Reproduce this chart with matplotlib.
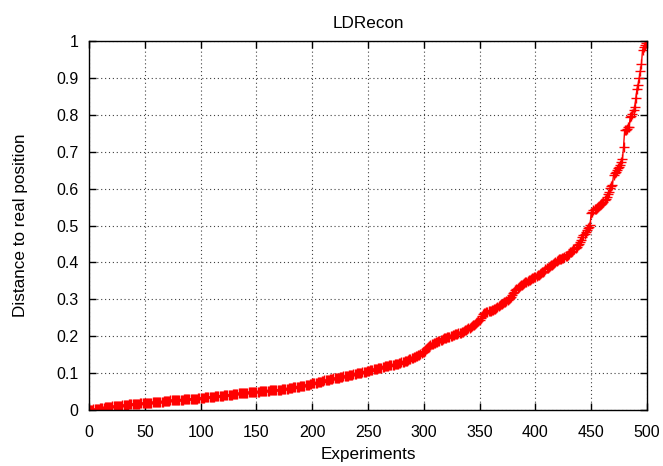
import numpy as np
import matplotlib
matplotlib.use("Agg")
import matplotlib.pyplot as plt

title = "LDRecon"
x_label = "Experiments"
y_label = "Distance to real position"

distance = [
    0.000, 0.001, 0.001, 0.001, 0.002, 0.002, 0.003, 0.003, 0.004, 0.004,
    0.005, 0.005, 0.006, 0.006, 0.007, 0.007, 0.008, 0.008, 0.008, 0.009,
    0.009, 0.010, 0.010, 0.010, 0.011, 0.011, 0.011, 0.012, 0.012, 0.012,
    0.013, 0.013, 0.013, 0.014, 0.014, 0.014, 0.015, 0.015, 0.015, 0.016,
    0.016, 0.016, 0.017, 0.017, 0.017, 0.017, 0.018, 0.018, 0.018, 0.019,
    0.019, 0.019, 0.019, 0.020, 0.020, 0.020, 0.020, 0.021, 0.021, 0.021,
    0.021, 0.022, 0.022, 0.022, 0.023, 0.023, 0.023, 0.024, 0.024, 0.024,
    0.025, 0.025, 0.025, 0.026, 0.026, 0.026, 0.026, 0.027, 0.027, 0.027,
    0.027, 0.028, 0.028, 0.028, 0.028, 0.029, 0.029, 0.029, 0.029, 0.030,
    0.030, 0.030, 0.030, 0.030, 0.031, 0.031, 0.031, 0.031, 0.032, 0.032,
    0.032, 0.033, 0.033, 0.033, 0.034, 0.034, 0.034, 0.035, 0.035, 0.035,
    0.036, 0.036, 0.036, 0.037, 0.037, 0.037, 0.038, 0.038, 0.039, 0.039,
    0.039, 0.040, 0.040, 0.040, 0.041, 0.041, 0.041, 0.042, 0.042, 0.043,
    0.043, 0.043, 0.044, 0.044, 0.045, 0.045, 0.045, 0.046, 0.046, 0.046,
    0.047, 0.047, 0.047, 0.048, 0.048, 0.048, 0.049, 0.049, 0.049, 0.050,
    0.050, 0.050, 0.050, 0.051, 0.051, 0.051, 0.051, 0.052, 0.052, 0.052,
    0.052, 0.052, 0.053, 0.053, 0.053, 0.053, 0.053, 0.054, 0.054, 0.054,
    0.054, 0.055, 0.055, 0.056, 0.056, 0.057, 0.057, 0.058, 0.058, 0.059,
    0.059, 0.060, 0.060, 0.061, 0.061, 0.062, 0.062, 0.063, 0.063, 0.064,
    0.064, 0.065, 0.066, 0.066, 0.067, 0.068, 0.068, 0.069, 0.070, 0.071,
    0.072, 0.072, 0.073, 0.074, 0.074, 0.075, 0.076, 0.077, 0.077, 0.078,
    0.079, 0.080, 0.080, 0.081, 0.082, 0.082, 0.083, 0.084, 0.085, 0.086,
    0.086, 0.087, 0.087, 0.088, 0.088, 0.089, 0.090, 0.090, 0.091, 0.091,
    0.092, 0.093, 0.093, 0.094, 0.095, 0.095, 0.096, 0.097, 0.097, 0.098,
    0.099, 0.099, 0.100, 0.101, 0.101, 0.102, 0.103, 0.103, 0.104, 0.105,
    0.106, 0.107, 0.108, 0.108, 0.109, 0.110, 0.111, 0.112, 0.112, 0.113,
    0.114, 0.115, 0.115, 0.116, 0.117, 0.118, 0.118, 0.119, 0.120, 0.121,
    0.121, 0.122, 0.123, 0.123, 0.124, 0.125, 0.125, 0.126, 0.127, 0.128,
    0.129, 0.130, 0.131, 0.132, 0.133, 0.134, 0.135, 0.137, 0.138, 0.140,
    0.141, 0.143, 0.144, 0.145, 0.147, 0.148, 0.150, 0.152, 0.154, 0.156,
    0.158, 0.161, 0.165, 0.169, 0.172, 0.174, 0.176, 0.178, 0.179, 0.181,
    0.182, 0.184, 0.185, 0.187, 0.188, 0.190, 0.191, 0.192, 0.194, 0.195,
    0.196, 0.197, 0.198, 0.199, 0.200, 0.201, 0.203, 0.204, 0.205, 0.206,
    0.207, 0.208, 0.209, 0.210, 0.211, 0.212, 0.214, 0.216, 0.217, 0.219,
    0.221, 0.223, 0.225, 0.227, 0.229, 0.231, 0.233, 0.235, 0.238, 0.241,
    0.245, 0.250, 0.255, 0.260, 0.263, 0.264, 0.265, 0.266, 0.267, 0.268,
    0.269, 0.270, 0.271, 0.273, 0.275, 0.277, 0.279, 0.281, 0.284, 0.286,
    0.288, 0.290, 0.292, 0.294, 0.296, 0.298, 0.300, 0.303, 0.307, 0.311,
    0.316, 0.320, 0.325, 0.328, 0.331, 0.334, 0.336, 0.338, 0.340, 0.342,
    0.344, 0.346, 0.348, 0.350, 0.352, 0.353, 0.355, 0.357, 0.358, 0.360,
    0.361, 0.363, 0.365, 0.367, 0.369, 0.371, 0.373, 0.375, 0.378, 0.381,
    0.384, 0.386, 0.388, 0.390, 0.392, 0.394, 0.396, 0.398, 0.400, 0.403,
    0.407, 0.408, 0.409, 0.410, 0.411, 0.413, 0.414, 0.416, 0.418, 0.421,
    0.424, 0.427, 0.429, 0.432, 0.435, 0.437, 0.439, 0.442, 0.446, 0.451,
    0.456, 0.462, 0.468, 0.473, 0.478, 0.483, 0.488, 0.493, 0.497, 0.501,
    0.535, 0.537, 0.542, 0.544, 0.546, 0.548, 0.550, 0.552, 0.556, 0.559,
    0.562, 0.565, 0.568, 0.571, 0.578, 0.585, 0.592, 0.601, 0.608, 0.610,
    0.637, 0.642, 0.646, 0.650, 0.655, 0.659, 0.664, 0.672, 0.680, 0.714,
    0.759, 0.760, 0.762, 0.766, 0.768, 0.795, 0.798, 0.801, 0.812, 0.822,
    0.845, 0.870, 0.882, 0.899, 0.918, 0.937, 0.976, 0.985, 0.990, 0.994,
]
experiments = np.arange(len(distance))

x_ticks = [0, 50, 100, 150, 200, 250, 300, 350, 400, 450, 500]
y_ticks = [0, 0.1, 0.2, 0.3, 0.4, 0.5, 0.6, 0.7, 0.8, 0.9, 1]
y_tick_labels = ["0", "0.1", "0.2", "0.3", "0.4", "0.5", "0.6", "0.7", "0.8", "0.9", "1"]

plt.rcParams['font.family'] = ['Liberation Sans', 'DejaVu Sans']

fig = plt.figure(figsize=(6.63, 4.66), dpi=100)
ax = fig.add_axes([89 / 663, 1 - 410 / 466, (647 - 89) / 663, (410 - 41) / 466])

ax.plot(experiments, distance, color='#ff0000', linewidth=1.0,
        marker='+', markersize=7, markeredgewidth=1.0)

ax.set_xlim(0, 500)
ax.set_ylim(0, 1)
ax.set_xticks(x_ticks)
ax.set_yticks(y_ticks)
ax.set_yticklabels(y_tick_labels)

ax.grid(True, color='#404040', linestyle=(0, (1, 2.5)), linewidth=0.8)
ax.set_axisbelow(True)
ax.tick_params(direction='in', top=True, right=True, length=5, width=1.0,
               labelsize=11.5)
ax.tick_params(axis='x', pad=10.5)
ax.tick_params(axis='y', pad=7.5)
for sp in ax.spines.values():
    sp.set_linewidth(1.0)

ax.set_title(title, fontsize=12.3, pad=9.5)
ax.set_xlabel(x_label, fontsize=12.3, labelpad=5)
ax.set_ylabel(y_label, fontsize=12.3, labelpad=20)

fig.savefig("out.png", dpi=100)
